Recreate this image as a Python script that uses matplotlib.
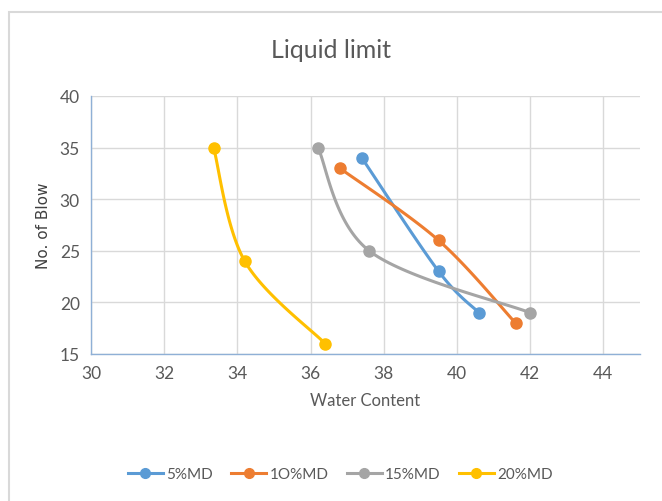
import numpy as np
import matplotlib.pyplot as plt
from matplotlib.lines import Line2D
from matplotlib.patches import Rectangle
from matplotlib.font_manager import FontProperties

# liquid limit test: water content vs number of blows
labels = ["5%MD", "1O%MD", "15%MD", "20%MD"]
colors = ["#5B9BD5", "#ED7D31", "#A5A5A5", "#FFC000"]
water = [
    [37.4, 39.5, 40.6],
    [36.8, 39.5, 41.6],
    [36.2, 37.6, 42.0],
    [33.35, 34.2, 36.4],
]
blows = [
    [34, 23, 19],
    [33, 26, 18],
    [35, 25, 19],
    [35, 24, 16],
]

plt.rcParams['font.family'] = ['Lato', 'DejaVu Sans']

fig = plt.figure(figsize=(6.62, 5.02), dpi=100)
fig.patches.append(Rectangle((8.5 / 662, -0.1), 1.2, 1 - 12.5 / 502 + 0.1,
                             transform=fig.transFigure, fill=False,
                             edgecolor="#D9D9D9", linewidth=1.5))
ax = fig.add_axes([91 / 662, 1 - 355 / 502, (640 - 91) / 662, (355 - 97) / 502])
ax.set_xlim(30, 45)
ax.set_ylim(15, 40)
ax.set_xticks(np.arange(30, 45, 2))
ax.set_yticks(np.arange(15, 41, 5))
ax.grid(True, color="#D9D9D9", linewidth=1)
ax.set_axisbelow(True)
for s in ["top", "right"]:
    ax.spines[s].set_visible(False)
for s in ["left", "bottom"]:
    ax.spines[s].set_color("#8FB0D6")
    ax.spines[s].set_linewidth(1)
ax.tick_params(length=0, labelsize=12.5, colors="#595959", pad=8)
ax.set_xlabel("Water Content", fontsize=12, color="#595959", labelpad=8)
ax.set_ylabel("No. of Blow", color="#404040", labelpad=6,
              fontproperties=FontProperties(family="DejaVu Sans", size=11))
fig.text(0.5, 1 - 50 / 502, "Liquid limit", ha="center", va="center",
         fontsize=18, color="#595959")


def smooth(xs, ys, n=40):
    # Excel-style smoothed line: Bezier segments with Catmull-Rom handles in display space
    pts = ax.transData.transform(np.column_stack([xs, ys]))
    ext = np.vstack([pts[0], pts, pts[-1]])
    out = []
    t = np.linspace(0, 1, n)[:, None]
    for i in range(1, len(ext) - 2):
        p0, p1, p2, p3 = ext[i - 1], ext[i], ext[i + 1], ext[i + 2]
        c1 = p1 + (p2 - p0) / 6
        c2 = p2 - (p3 - p1) / 6
        seg = ((1 - t) ** 3 * p1 + 3 * (1 - t) ** 2 * t * c1
               + 3 * (1 - t) * t ** 2 * c2 + t ** 3 * p2)
        out.append(seg)
    curve = ax.transData.inverted().transform(np.vstack(out))
    return curve[:, 0], curve[:, 1]


for x, y, c in zip(water, blows, colors):
    cx, cy = smooth(x, y)
    ax.plot(cx, cy, color=c, linewidth=2.2, solid_capstyle="round", zorder=3)
    ax.plot(x, y, "o", color=c, markersize=8, zorder=4)

handles = [Line2D([0], [0], color=c, linewidth=2.2, marker="o", markersize=7)
           for c in colors]
fig.legend(handles, labels, loc="center", bbox_to_anchor=(0.514, 1 - 475 / 502),
           ncol=4, frameon=False, fontsize=11, handlelength=2.3,
           handletextpad=0.2, columnspacing=1.2, labelcolor="#595959")

fig.savefig("out.png", dpi=100)
